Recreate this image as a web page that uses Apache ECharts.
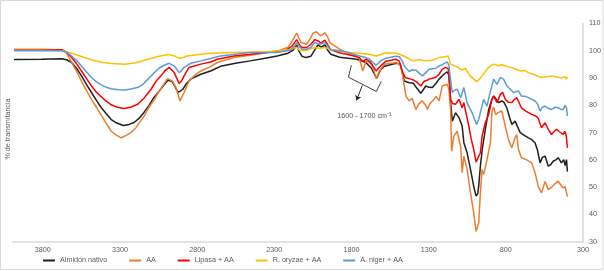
<!DOCTYPE html>
<html>
<head>
<meta charset="utf-8">
<script src="https://cdn.jsdelivr.net/npm/echarts@6/dist/echarts.min.js"></script>
<style>
html,body{margin:0;padding:0;background:#fff;}
#chart{width:604px;height:271px;}
</style>
</head>
<body>
<div id="chart"></div>
<script>
// ---- data (wavenumber cm-1, % transmittance) ----
const xTicks = [3800, 3300, 2800, 2300, 1800, 1300, 800, 300];
const yTicks = [30, 40, 50, 60, 70, 80, 90, 100, 110];
const seriesNames = ['Almidón nativo', 'AA', 'Lipasa + AA', 'R. oryzae + AA', 'A. niger + AA'];
const seriesColors = ['#1f1f1f', '#ED7D31', '#FF0000', '#FFC000', '#5B9BD5'];

const almidonNativo = [[3987,96.8],[3807,96.9],[3678,97.1],[3646,96.7],[3614,95.7],[3582,93.6],[3550,90.8],[3518,87.7],[3485,84.7],[3453,81.8],[3421,79.1],[3389,76.9],[3357,74.8],[3324,73.6],[3279,72.6],[3241,73.0],[3209,73.7],[3177,75.2],[3145,77.4],[3112,80.0],[3080,82.9],[3048,85.1],[3022,87.0],[2990,89.2],[2964,88.8],[2945,87.0],[2925,84.8],[2912,85.1],[2893,85.9],[2868,88.1],[2842,89.6],[2777,91.4],[2713,92.6],[2649,94.3],[2552,95.4],[2456,96.3],[2359,97.3],[2282,98.1],[2211,99.1],[2179,100.2],[2155,102.0],[2140,99.8],[2121,98.0],[2095,97.5],[2063,98.0],[2044,99.8],[2018,102.2],[1996,101.3],[1973,102.2],[1954,100.2],[1934,98.7],[1877,97.6],[1767,96.9],[1709,95.8],[1671,93.6],[1638,89.9],[1613,92.9],[1587,94.3],[1510,95.4],[1484,95.1],[1458,88.9],[1426,88.3],[1400,88.1],[1381,86.6],[1351,84.4],[1319,87.1],[1297,86.6],[1276,86.5],[1252,88.1],[1233,89.6],[1201,91.4],[1180,92.3],[1169,91.0],[1158,81.0],[1147,74.2],[1126,77.3],[1104,75.5],[1083,72.4],[1072,66.3],[1051,62.6],[1029,56.5],[1008,50.3],[993,46.7],[982,47.6],[976,50.3],[965,57.7],[953,63.8],[933,71.2],[911,78.5],[890,82.2],[879,83.4],[863,82.2],[847,81.0],[826,81.6],[812,81.1],[794,79.1],[776,75.6],[761,73.0],[740,74.2],[725,72.3],[707,70.0],[680,69.0],[654,68.1],[635,67.5],[611,66.3],[596,63.8],[578,58.9],[564,60.9],[546,61.4],[525,57.7],[509,58.3],[493,59.5],[474,60.1],[461,60.8],[440,58.9],[425,60.1],[416,57.9],[407,60.1],[401,55.7]];

const aa = [[3987,100.4],[3807,100.4],[3678,100.3],[3646,99.1],[3614,95.7],[3582,92.5],[3550,88.9],[3518,85.5],[3485,82.2],[3453,79.3],[3421,76.3],[3389,73.4],[3357,70.5],[3324,69.1],[3292,68.1],[3260,69.0],[3228,70.0],[3196,71.9],[3164,74.5],[3143,76.1],[3112,79.3],[3077,82.2],[3048,85.1],[3024,87.1],[2992,89.8],[2960,88.9],[2938,86.6],[2912,81.6],[2900,82.9],[2885,84.7],[2853,88.9],[2816,91.0],[2777,92.6],[2713,94.2],[2670,95.7],[2563,97.5],[2456,98.4],[2348,99.4],[2262,100.2],[2211,101.3],[2185,103.5],[2155,106.5],[2140,104.6],[2127,103.0],[2091,102.4],[2070,104.3],[2048,106.5],[2027,107.0],[2001,105.5],[1973,106.6],[1954,105.0],[1941,103.0],[1877,100.6],[1812,98.7],[1767,98.0],[1748,96.9],[1727,92.6],[1705,96.3],[1684,95.8],[1663,94.4],[1641,89.8],[1619,92.5],[1587,95.1],[1512,95.7],[1490,95.1],[1478,93.9],[1447,83.4],[1426,81.6],[1407,82.6],[1383,78.5],[1362,80.7],[1341,81.6],[1319,80.0],[1308,78.5],[1291,80.7],[1265,82.2],[1252,83.3],[1233,81.6],[1212,87.1],[1180,87.7],[1169,85.9],[1158,78.5],[1151,63.2],[1137,68.7],[1115,70.5],[1093,65.0],[1083,55.3],[1072,61.4],[1051,56.5],[1029,47.9],[1008,40.6],[993,33.8],[976,36.9],[965,47.9],[954,56.5],[944,54.6],[922,60.1],[900,66.3],[890,77.8],[879,79.3],[866,76.7],[847,77.4],[826,77.9],[815,77.4],[802,71.9],[783,67.5],[761,64.4],[740,68.2],[729,69.3],[718,63.8],[699,60.8],[668,60.1],[633,58.9],[611,55.3],[590,50.3],[569,47.9],[546,52.1],[525,49.1],[506,49.9],[487,51.0],[461,52.2],[442,50.6],[429,49.7],[416,50.2],[401,46.5]];

const lipasaAA = [[3987,100.5],[3807,100.5],[3678,100.4],[3646,99.5],[3614,97.5],[3582,95.3],[3550,92.6],[3518,89.9],[3485,87.1],[3453,84.8],[3421,83.1],[3389,81.5],[3357,80.2],[3318,79.3],[3271,78.8],[3228,79.4],[3185,80.4],[3145,82.6],[3099,85.9],[3067,88.8],[3035,90.8],[3009,92.7],[2981,93.9],[2949,92.0],[2932,89.9],[2917,88.0],[2903,88.8],[2885,90.8],[2853,93.9],[2777,95.1],[2713,95.9],[2670,96.9],[2563,98.1],[2456,98.7],[2348,99.4],[2231,100.0],[2185,101.7],[2155,104.1],[2140,102.4],[2121,101.2],[2091,101.2],[2063,102.4],[2037,104.1],[2012,103.5],[1999,102.8],[1973,103.9],[1954,102.2],[1934,100.4],[1877,99.3],[1834,98.7],[1770,97.9],[1748,97.5],[1727,96.0],[1705,96.9],[1677,95.8],[1641,92.6],[1613,94.3],[1577,96.2],[1512,96.9],[1490,96.2],[1471,92.5],[1452,90.2],[1416,89.6],[1394,89.2],[1373,88.3],[1351,87.1],[1330,88.8],[1310,89.2],[1297,89.6],[1276,89.9],[1254,90.3],[1233,91.4],[1212,93.2],[1191,93.9],[1173,93.4],[1166,89.6],[1158,82.2],[1146,80.7],[1126,80.4],[1104,82.2],[1083,79.1],[1072,81.0],[1059,77.4],[1040,72.4],[1024,67.5],[1008,63.8],[993,59.2],[979,60.9],[965,62.6],[954,68.7],[933,73.6],[911,76.7],[892,81.8],[879,83.4],[857,81.0],[836,84.0],[821,84.8],[804,82.2],[783,81.1],[761,81.0],[744,82.2],[729,82.8],[712,80.7],[699,79.1],[668,77.8],[633,76.7],[603,76.0],[590,75.2],[569,71.8],[546,73.6],[525,71.2],[504,69.3],[487,70.4],[472,71.2],[454,70.4],[429,69.3],[418,70.5],[409,69.0],[401,64.4]];

const rOryzaeAA = [[3987,100.2],[3807,100.2],[3678,100.0],[3614,99.1],[3550,97.9],[3485,96.7],[3421,95.8],[3357,95.3],[3271,95.1],[3196,95.6],[3119,96.9],[3048,98.0],[2984,98.6],[2951,98.2],[2917,97.2],[2887,97.6],[2864,98.1],[2777,98.7],[2713,99.1],[2565,99.4],[2348,99.6],[2198,100.4],[2172,101.0],[2155,101.3],[2140,100.4],[2121,100.0],[2091,100.2],[2037,101.2],[2005,100.9],[1973,101.2],[1941,100.6],[1812,99.4],[1684,98.7],[1641,98.1],[1577,99.3],[1512,99.1],[1490,98.7],[1458,98.0],[1404,96.3],[1362,96.7],[1319,96.3],[1276,96.5],[1233,97.5],[1191,97.8],[1173,98.1],[1158,95.1],[1147,94.4],[1117,94.1],[1085,92.9],[1063,93.6],[1031,90.8],[1008,89.6],[989,88.7],[970,89.6],[954,90.8],[924,93.2],[898,94.5],[879,95.1],[847,94.5],[828,94.9],[802,94.4],[783,94.1],[761,93.9],[737,93.2],[705,92.6],[680,92.8],[654,92.0],[622,91.4],[596,90.7],[569,90.2],[538,90.5],[504,90.8],[474,90.5],[448,90.1],[429,90.2],[416,90.5],[407,89.6],[401,90.5]];

const aNigerAA = [[3987,100.0],[3807,100.0],[3678,100.0],[3646,99.5],[3614,98.1],[3582,96.5],[3550,94.4],[3518,92.3],[3485,90.2],[3453,88.6],[3421,87.5],[3389,86.6],[3357,86.1],[3311,85.7],[3266,85.6],[3221,86.1],[3183,86.6],[3151,87.7],[3119,89.6],[3077,92.0],[3048,93.6],[3014,94.7],[2981,95.4],[2949,94.4],[2932,93.2],[2917,92.0],[2903,92.7],[2885,93.9],[2842,95.4],[2777,96.3],[2713,97.2],[2649,98.1],[2456,99.4],[2284,99.4],[2198,100.2],[2176,101.3],[2155,103.0],[2140,101.7],[2121,100.6],[2091,100.6],[2063,101.3],[2037,103.0],[2005,102.4],[1973,103.0],[1954,101.7],[1934,100.4],[1834,99.6],[1748,98.1],[1716,97.6],[1684,96.9],[1641,94.7],[1613,96.2],[1577,97.3],[1512,98.0],[1490,97.8],[1471,96.2],[1458,94.4],[1426,92.4],[1407,93.0],[1383,92.9],[1362,91.8],[1341,90.8],[1319,92.0],[1297,93.2],[1276,93.4],[1254,93.6],[1233,94.4],[1212,94.9],[1180,95.9],[1169,94.7],[1159,89.6],[1147,84.7],[1133,85.5],[1115,85.9],[1093,82.8],[1072,86.5],[1051,81.0],[1034,78.9],[1019,77.3],[1002,74.8],[989,73.0],[976,74.8],[965,77.3],[944,82.2],[922,79.7],[905,84.0],[879,89.6],[857,87.7],[836,90.2],[815,89.6],[795,87.3],[772,85.9],[750,84.7],[718,85.3],[699,83.4],[673,83.3],[654,82.8],[611,81.6],[596,80.7],[578,77.9],[564,79.3],[546,79.7],[525,78.9],[504,78.5],[480,79.3],[461,79.1],[442,78.5],[429,78.5],[416,80.0],[407,79.1],[401,76.1]];

// annotation (data coordinates)
const bracketPts = [[1801,94.7],[1820,90.3],[1639,85.1],[1607,88.8]];
const arrowPts = [[1730,87.3],[1768,81.8]];
const noteLabel = '1600 - 1700 cm⁻¹';
const notePos = [1717, 76.0];
const yAxisTitle = '% de transmitancia';

// ---- chart ----
const FONT = '"Liberation Sans", Arial, sans-serif';
const chart = echarts.init(document.getElementById('chart'), null, {renderer: 'canvas'});
const dataSets = [almidonNativo, aa, lipasaAA, rOryzaeAA, aNigerAA];

const series = dataSets.map((d, i) => ({
  name: seriesNames[i],
  type: 'line',
  data: d,
  symbol: 'none',
  showSymbol: false,
  smooth: false,
  lineStyle: {width: 1.5, color: seriesColors[i]},
  itemStyle: {color: seriesColors[i]},
  z: 2 + i,
  silent: true
}));

series.push({
  name: 'bracket',
  type: 'line',
  data: bracketPts,
  symbol: 'none',
  lineStyle: {width: 1, color: '#404040'},
  itemStyle: {color: '#404040'},
  z: 10,
  silent: true,
  markLine: {
    silent: true,
    symbol: ['none', 'arrow'],
    symbolSize: 5,
    label: {show: false},
    lineStyle: {color: '#262626', width: 1, type: 'solid'},
    data: [[{coord: arrowPts[0]}, {coord: arrowPts[1]}]]
  }
});
series.push({
  name: 'note',
  type: 'scatter',
  data: [notePos],
  symbolSize: 0,
  silent: true,
  z: 10,
  label: {
    show: true,
    position: 'inside',
    formatter: noteLabel,
    fontSize: 7.2,
    fontFamily: FONT,
    color: '#262626'
  }
});

chart.setOption({
  animation: false,
  backgroundColor: '#ffffff',
  grid: {left: 12, right: 20, top: 23.5, bottom: 29.3, containLabel: false},
  xAxis: {
    type: 'value',
    inverse: true,
    min: 300,
    max: 4000,
    interval: 500,
    axisLine: {show: true, onZero: false, lineStyle: {color: '#d9d9d9', width: 1.5}},
    axisTick: {show: false},
    splitLine: {show: false},
    axisLabel: {
      margin: 5,
      fontSize: 7.2,
      fontFamily: FONT,
      color: '#595959',
      showMaxLabel: false,
      formatter: v => (xTicks.indexOf(v) >= 0 ? String(v) : '')
    }
  },
  yAxis: {
    type: 'value',
    position: 'right',
    min: 30,
    max: 110,
    interval: 10,
    axisLine: {show: true, lineStyle: {color: '#d9d9d9', width: 1.5}},
    axisTick: {show: false},
    splitLine: {show: false},
    axisLabel: {
      margin: 6,
      fontSize: 7.2,
      fontFamily: FONT,
      color: '#595959',
      formatter: v => (yTicks.indexOf(v) >= 0 ? String(v) : '')
    }
  },
  legend: {
    data: seriesNames,
    left: 43,
    top: 257,
    icon: 'rect',
    itemWidth: 12,
    itemHeight: 2,
    itemGap: 22,
    padding: 0,
    textStyle: {fontSize: 7.2, fontFamily: FONT, color: '#595959'}
  },
  graphic: [
    {
      type: 'rect',
      shape: {x: 0.5, y: 0.5, width: 602.5, height: 269},
      style: {fill: 'none', stroke: '#d9d9d9', lineWidth: 1},
      silent: true,
      z: 0
    },
    {
      type: 'text',
      x: 8,
      y: 129,
      rotation: Math.PI / 2,
      style: {
        text: yAxisTitle,
        fontSize: 7.2,
        fontFamily: FONT,
        fill: '#595959',
        textAlign: 'center',
        textVerticalAlign: 'middle'
      },
      silent: true
    }
  ],
  series: series
});
</script>
</body>
</html>
